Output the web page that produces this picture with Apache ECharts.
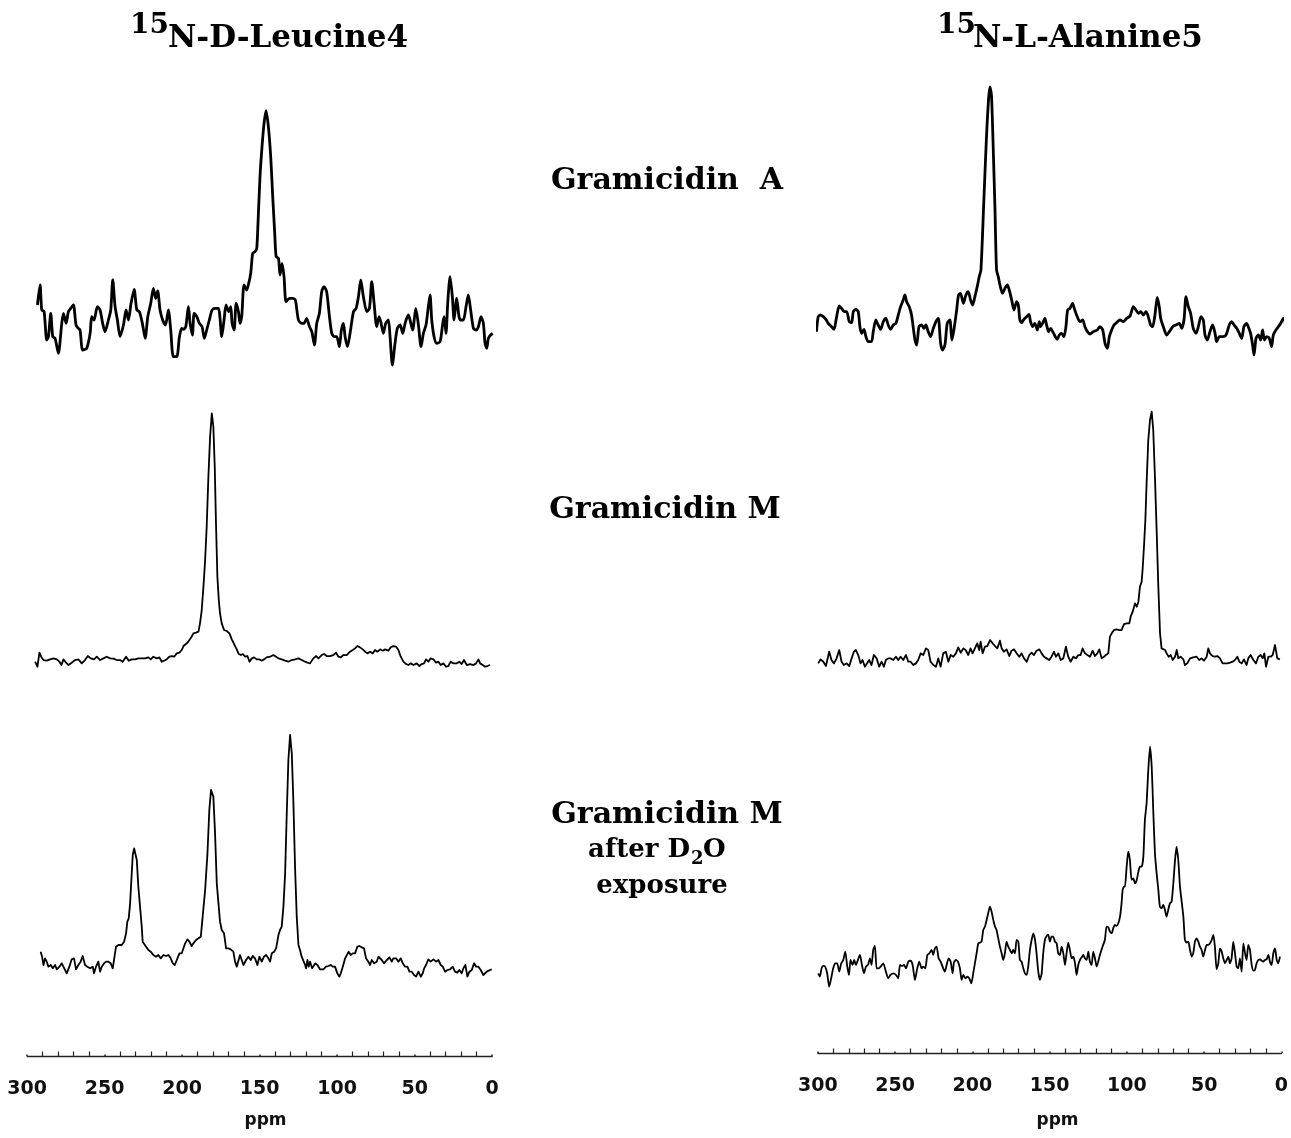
<!DOCTYPE html>
<html>
<head>
<meta charset="utf-8">
<title>15N NMR spectra of gramicidin</title>
<script src="https://cdn.jsdelivr.net/npm/echarts@6/dist/echarts.min.js"></script>
<style>
  html, body { margin: 0; padding: 0; background: #fff; }
  #chart { width: 1291px; height: 1138px; }
</style>
</head>
<body>
<div id="chart"></div>
<script>
// spectra as [ppm, intensity (a.u.)]
const leuGA = [[293.4,225],[291.7,285],[290.6,210],[289.1,205],[287.4,120],[286.3,130],[284.8,200],[283.5,130],[282.0,125],[279.9,80],[277.7,170],[276.6,200],[274.9,170],[273.4,205],[271.9,215],[270.2,225],[268.5,165],[267.0,155],[265.9,150],[264.2,90],[261.6,95],[259.4,140],[258.4,190],[256.9,180],[254.7,220],[253.0,210],[251.3,170],[249.8,145],[247.6,180],[246.1,210],[244.8,300],[243.3,220],[241.8,180],[240.1,130],[237.9,165],[236.2,210],[234.7,180],[233.0,230],[231.0,272],[229.3,210],[227.6,205],[225.7,170],[223.9,125],[222.2,190],[220.3,230],[218.6,275],[217.1,245],[215.8,267],[214.3,210],[212.6,180],[210.8,165],[208.9,210],[207.4,150],[205.7,70],[203.5,70],[201.8,130],[200.3,155],[199.2,152],[197.7,160],[196.0,220],[194.9,170],[193.4,135],[192.3,200],[190.6,190],[188.9,170],[187.2,160],[185.7,125],[184.2,150],[182.5,180],[180.7,210],[178.8,215],[176.6,215],[175.6,185],[174.5,130],[173.0,180],[171.7,225],[170.0,205],[168.7,220],[167.8,170],[166.5,150],[165.2,230],[163.7,205],[162.7,170],[161.6,190],[160.1,285],[158.4,270],[157.1,290],[155.8,320],[154.5,380],[153.0,385],[151.9,395],[151.1,470],[149.8,610],[148.5,700],[147.2,770],[145.9,808],[144.4,760],[142.9,670],[141.6,550],[140.3,440],[139.4,370],[137.9,365],[136.9,315],[135.6,350],[134.3,310],[133.0,235],[130.8,245],[128.7,245],[127.0,240],[125.0,180],[122.9,170],[121.4,170],[119.7,185],[117.9,160],[116.4,145],[114.7,105],[113.2,170],[111.5,200],[110.0,265],[108.5,280],[106.8,265],[105.0,190],[103.5,140],[102.0,130],[100.3,130],[98.6,100],[97.3,150],[96.0,170],[94.9,130],[93.4,100],[91.7,140],[89.5,205],[87.8,215],[86.3,250],[84.8,300],[83.1,250],[80.9,205],[79.2,215],[77.7,295],[76.2,230],[74.5,160],[73.0,190],[71.9,175],[70.2,140],[68.7,170],[67.0,180],[65.9,130],[64.4,45],[62.7,110],[61.2,155],[59.4,165],[57.7,140],[56.2,170],[54.1,195],[53.0,180],[51.3,150],[49.3,215],[47.6,165],[45.9,100],[44.4,140],[42.7,165],[41.2,220],[40.1,255],[39.0,180],[37.5,130],[35.8,110],[33.6,115],[31.9,170],[31.0,190],[29.8,140],[28.7,230],[27.2,310],[25.7,250],[24.6,180],[22.9,245],[21.4,190],[20.3,180],[18.6,180],[16.9,220],[15.4,255],[13.9,210],[12.1,155],[10.4,150],[8.9,160],[7.2,190],[5.7,170],[4.6,110],[3.5,95],[2.5,125],[1.0,135],[-0.3,140]];

const alaGA = [[300.9,115],[299.8,160],[298.3,165],[296.5,160],[294.8,152],[293.3,140],[291.2,130],[289.6,122],[287.9,160],[286.2,192],[284.7,185],[283.0,175],[281.4,175],[279.7,145],[278.2,142],[277.1,175],[275.4,182],[273.9,175],[272.8,130],[271.7,110],[270.2,122],[268.9,100],[267.4,85],[265.3,85],[264.2,115],[262.5,150],[261.0,135],[259.4,122],[257.7,145],[256.0,155],[254.5,135],[253.0,122],[251.2,135],[249.5,140],[248.0,165],[246.5,190],[244.8,210],[243.7,225],[242.6,205],[240.9,190],[239.4,165],[237.2,90],[236.1,75],[234.6,130],[232.9,135],[231.4,125],[230.1,135],[228.6,115],[227.1,100],[225.3,125],[223.6,145],[222.1,155],[220.6,80],[219.3,60],[217.8,75],[216.3,140],[214.6,150],[213.3,90],[212.0,120],[210.2,180],[209.0,225],[207.7,230],[205.9,200],[204.2,225],[202.7,235],[201.2,210],[199.9,195],[198.4,220],[196.9,250],[195.6,280],[194.5,300],[192.6,510],[191.0,690],[189.6,810],[188.7,849],[187.7,825],[186.7,690],[185.4,480],[184.4,300],[183.3,280],[182.2,255],[180.5,230],[179.0,245],[177.4,255],[176.2,240],[174.6,210],[173.1,180],[171.4,205],[170.3,195],[169.3,150],[168.2,142],[166.7,152],[164.9,160],[163.4,167],[162.4,145],[161.0,130],[159.6,140],[158.0,120],[156.7,145],[155.9,130],[154.6,140],[153.1,155],[152.0,135],[150.7,115],[149.4,125],[147.7,112],[146.4,100],[145.1,92],[143.8,105],[142.3,110],[140.8,100],[139.5,130],[138.4,180],[136.9,185],[135.2,200],[134.1,185],[132.6,165],[130.4,145],[128.7,150],[127.2,130],[125.6,115],[123.9,108],[121.8,115],[119.2,120],[117.5,130],[115.7,120],[114.2,80],[112.7,65],[111.4,100],[109.9,120],[108.4,135],[106.7,142],[104.5,150],[102.4,145],[100.2,155],[98.0,162],[95.9,190],[94.2,180],[92.6,170],[91.1,175],[89.4,165],[87.7,175],[86.2,160],[84.7,135],[83.4,130],[81.9,165],[80.4,218],[79.1,190],[78.2,155],[76.5,130],[74.3,105],[72.6,115],[70.4,130],[68.3,135],[66.1,140],[64.6,125],[63.1,150],[61.8,220],[60.3,190],[58.8,170],[57.1,125],[55.3,110],[53.8,130],[52.1,160],[50.6,150],[49.5,105],[48.0,90],[46.3,115],[44.6,135],[43.0,110],[42.0,85],[40.2,100],[38.1,100],[35.9,105],[33.8,135],[32.2,145],[30.7,135],[29.0,125],[27.3,110],[25.8,95],[24.3,130],[22.6,140],[21.5,130],[20.0,110],[18.7,75],[17.8,45],[16.5,95],[15.0,105],[13.5,90],[12.2,120],[11.1,90],[9.6,100],[7.9,95],[6.4,70],[5.3,105],[3.6,120],[2.0,130],[0.5,140],[-1.2,155],[-2.3,145],[-3.3,85]];

const leuGM = [[294.9,45],[293.4,30],[292.1,72],[291.0,60],[289.5,50],[287.4,48],[285.2,52],[283.1,55],[280.9,52],[279.2,45],[277.9,35],[276.6,52],[274.9,42],[273.4,35],[271.3,42],[269.1,50],[267.0,52],[264.8,40],[262.7,50],[260.9,62],[259.0,55],[256.9,52],[255.1,60],[253.0,50],[250.8,55],[248.7,60],[246.5,55],[244.4,54],[242.2,50],[240.1,50],[238.4,45],[236.2,60],[234.5,48],[232.6,52],[230.4,52],[228.3,55],[226.1,55],[224.0,55],[221.8,58],[220.3,52],[218.6,60],[216.4,55],[214.7,58],[213.2,45],[211.7,48],[210.0,52],[208.3,60],[206.8,62],[205.2,60],[203.5,70],[201.8,72],[200.3,80],[199.2,92],[198.1,92],[196.6,102],[195.4,100],[193.9,120],[192.8,130],[191.1,132],[189.5,135],[188.5,160],[187.4,200],[186.3,270],[185.2,350],[184.2,450],[183.1,600],[182.0,720],[180.9,790],[179.9,750],[179.0,630],[178.2,460],[177.3,300],[176.4,230],[175.6,190],[174.5,160],[173.0,140],[171.3,137],[169.5,130],[168.0,112],[166.5,98],[164.8,82],[163.5,68],[162.2,65],[160.9,68],[159.4,60],[157.9,62],[156.6,45],[155.1,55],[153.6,58],[151.9,52],[150.2,52],[148.7,48],[147.2,52],[145.5,58],[143.3,60],[141.2,65],[139.4,60],[137.9,55],[135.8,52],[133.6,48],[131.5,45],[129.3,50],[127.2,52],[125.0,55],[122.9,50],[120.7,45],[119.2,42],[117.5,40],[115.4,55],[113.6,62],[112.1,55],[110.0,65],[108.5,68],[106.8,62],[104.6,62],[102.5,65],[100.7,72],[99.2,60],[97.7,58],[96.0,65],[93.9,65],[91.7,75],[90.0,80],[88.5,85],[87.0,92],[85.3,88],[83.5,82],[82.0,75],[80.5,70],[78.8,75],[77.1,70],[75.6,80],[74.1,75],[72.3,82],[70.6,78],[69.1,82],[67.0,78],[65.5,88],[63.8,92],[62.0,90],[60.5,80],[59.0,60],[57.3,45],[55.6,38],[54.1,35],[52.6,40],[50.8,35],[48.7,40],[47.0,32],[45.5,38],[44.0,40],[42.7,52],[41.2,45],[39.7,55],[37.9,52],[36.2,42],[34.7,45],[33.2,35],[31.5,40],[29.8,30],[28.3,32],[26.8,45],[25.0,40],[22.9,40],[21.2,45],[19.7,38],[18.2,50],[16.4,35],[14.3,38],[12.1,35],[10.4,40],[8.9,52],[7.8,40],[6.1,35],[4.6,30],[3.1,32],[1.4,35]];

const alaGM = [[299.8,40],[298.3,52],[296.5,45],[294.8,32],[292.7,75],[291.2,50],[289.6,40],[287.9,55],[286.2,80],[284.7,45],[283.2,35],[281.4,40],[279.7,32],[278.2,55],[276.7,75],[275.4,80],[273.9,65],[272.4,40],[271.1,50],[269.6,30],[268.5,25],[266.8,50],[265.3,35],[263.8,65],[262.0,55],[260.3,30],[258.8,45],[257.3,30],[256.0,50],[254.5,55],[253.0,55],[251.2,50],[249.5,60],[248.0,50],[246.5,60],[244.8,50],[243.0,65],[241.5,45],[240.0,45],[238.3,35],[236.6,40],[235.1,50],[233.5,70],[231.8,65],[230.1,85],[228.6,80],[227.1,45],[225.3,35],[223.6,30],[222.1,55],[220.6,30],[218.9,70],[217.2,75],[215.6,45],[214.1,65],[212.4,60],[210.7,70],[209.2,88],[207.6,72],[205.9,85],[204.4,80],[202.7,65],[201.2,85],[199.9,70],[198.4,85],[196.9,100],[195.6,80],[194.7,105],[193.4,70],[191.9,90],[190.4,92],[188.6,110],[186.9,100],[185.4,92],[183.9,85],[182.2,108],[181.1,85],[179.6,75],[177.9,82],[176.1,62],[174.7,78],[173.1,82],[171.4,70],[169.7,60],[168.2,70],[166.6,55],[164.9,45],[163.2,65],[161.7,72],[160.2,65],[158.5,78],[156.7,82],[155.2,70],[153.7,60],[152.0,55],[150.3,50],[148.8,60],[147.2,75],[146.0,60],[144.4,70],[142.9,50],[141.2,55],[139.5,90],[138.0,60],[136.5,45],[134.7,60],[133.0,55],[131.5,65],[130.0,65],[128.7,85],[127.2,70],[125.6,65],[123.9,60],[122.2,78],[120.7,62],[119.2,70],[117.9,82],[116.4,55],[114.9,60],[113.6,65],[112.1,70],[111.0,120],[109.9,130],[108.4,140],[106.7,142],[105.0,140],[103.5,140],[101.9,158],[100.2,160],[98.5,160],[97.6,180],[96.3,195],[94.8,220],[93.7,210],[92.6,225],[91.6,270],[90.5,285],[89.9,320],[89.0,390],[88.1,470],[87.3,580],[86.2,710],[85.1,770],[84.0,795],[83.0,740],[81.9,600],[80.8,440],[79.7,270],[78.6,130],[77.6,85],[76.5,85],[75.4,80],[74.3,70],[73.0,60],[71.7,65],[70.4,50],[68.9,60],[67.8,80],[66.8,55],[65.3,60],[63.5,52],[62.5,35],[61.0,40],[59.2,55],[57.1,58],[54.9,60],[53.2,50],[51.7,55],[50.2,48],[48.4,60],[47.4,85],[46.3,70],[44.6,62],[43.1,60],[41.5,62],[39.8,55],[38.1,40],[36.6,40],[35.1,40],[33.3,42],[31.6,45],[30.1,50],[28.6,60],[27.3,45],[25.8,40],[24.3,52],[22.6,35],[21.5,55],[20.0,65],[18.2,50],[16.5,40],[15.0,60],[13.5,65],[12.2,55],[11.1,70],[10.0,30],[8.5,60],[7.0,60],[5.7,65],[4.2,95],[2.7,55],[1.0,52]];

const leuD2O = [[291.3,85],[290.4,70],[289.5,45],[288.5,65],[287.4,55],[286.3,40],[284.8,45],[283.5,35],[282.0,45],[280.9,32],[279.2,40],[277.7,50],[276.6,45],[274.5,20],[272.8,40],[271.3,62],[269.8,65],[268.5,32],[267.0,45],[265.5,55],[264.2,72],[262.7,45],[261.2,40],[259.4,35],[257.7,40],[256.9,20],[255.6,40],[254.1,55],[253.0,25],[251.9,40],[250.4,50],[249.1,55],[247.6,55],[246.1,50],[244.8,35],[243.7,40],[242.7,100],[241.2,105],[239.0,105],[237.5,115],[236.2,140],[235.4,175],[234.5,185],[233.6,230],[232.8,300],[231.9,375],[231.0,395],[230.2,392],[229.3,360],[228.3,280],[227.2,220],[226.1,160],[225.5,115],[224.6,110],[223.3,100],[221.8,90],[220.3,85],[218.6,75],[216.9,70],[215.4,75],[213.9,65],[212.1,75],[210.4,72],[208.9,75],[207.4,65],[206.1,50],[204.8,45],[203.5,60],[201.8,80],[200.3,80],[199.2,95],[198.1,110],[196.6,122],[195.4,115],[193.9,102],[192.8,110],[191.1,120],[189.5,125],[188.0,130],[186.8,190],[185.2,270],[183.7,380],[182.5,510],[181.4,570],[180.5,575],[179.9,550],[178.8,440],[177.7,290],[176.6,230],[175.6,175],[174.5,150],[173.0,140],[171.7,95],[170.2,95],[168.7,92],[167.0,85],[165.9,55],[164.8,40],[163.7,45],[162.7,75],[161.6,70],[160.5,45],[158.8,60],[157.3,70],[155.8,60],[154.5,72],[153.0,65],[151.5,45],[150.2,70],[148.7,55],[147.2,70],[145.9,75],[144.4,65],[143.3,55],[142.2,80],[140.7,85],[139.4,95],[137.9,135],[136.9,150],[135.8,160],[134.7,220],[133.6,320],[132.6,490],[131.5,660],[130.4,735],[129.3,680],[128.3,540],[127.2,340],[126.1,190],[125.0,105],[124.0,90],[122.9,70],[121.8,65],[120.7,45],[120.1,35],[119.2,60],[118.4,40],[117.5,55],[116.2,35],[115.4,40],[114.1,50],[112.8,45],[111.1,32],[108.9,32],[107.2,40],[105.7,42],[104.2,45],[102.9,40],[101.4,40],[99.9,20],[98.6,10],[97.7,20],[96.4,40],[94.9,65],[93.9,70],[92.6,85],[91.3,75],[90.0,80],[88.5,80],[87.0,100],[85.7,102],[84.2,98],[82.7,95],[81.4,65],[79.9,55],[78.8,45],[77.7,60],[76.2,50],[74.5,55],[73.4,70],[72.3,75],[71.3,60],[69.8,50],[68.0,60],[66.3,68],[64.8,55],[63.8,65],[62.0,65],[60.5,55],[59.0,65],[57.7,50],[56.2,40],[54.7,40],[53.4,25],[51.9,25],[50.4,15],[49.1,10],[47.6,25],[46.1,10],[44.8,20],[43.9,35],[42.7,45],[41.2,62],[39.7,55],[37.9,62],[36.2,55],[34.7,60],[33.2,45],[31.9,40],[30.4,25],[28.9,30],[27.2,32],[25.5,40],[24.0,25],[22.5,22],[21.2,30],[19.7,20],[18.6,35],[17.3,45],[16.0,10],[14.7,25],[13.2,30],[11.7,50],[10.4,40],[8.9,40],[7.4,30],[5.7,15],[4.6,10],[3.5,25],[2.5,20],[1.4,30],[0.3,32]];

const alaD2O = [[299.8,60],[298.7,50],[297.6,75],[296.5,82],[295.3,80],[294.0,60],[292.7,20],[291.4,45],[290.1,75],[288.8,90],[287.5,90],[286.2,65],[284.9,90],[283.6,100],[282.3,125],[281.0,80],[279.9,55],[278.9,100],[277.6,85],[276.5,100],[275.4,85],[274.1,100],[272.8,115],[271.5,85],[270.2,60],[268.9,80],[267.6,85],[266.3,105],[265.3,85],[264.2,130],[263.1,142],[262.0,75],[260.7,75],[259.4,80],[257.7,90],[256.0,65],[254.5,45],[253.0,55],[251.2,60],[249.5,55],[248.0,45],[246.9,85],[245.6,82],[244.3,85],[243.0,75],[241.5,95],[240.0,98],[238.7,85],[237.2,40],[235.7,75],[234.4,95],[232.9,75],[231.8,80],[230.5,75],[229.2,115],[227.9,120],[226.4,130],[225.4,115],[224.3,135],[223.2,140],[221.9,105],[220.6,95],[218.9,75],[217.8,65],[216.7,85],[215.4,105],[214.1,95],[212.8,60],[212.0,92],[210.7,100],[209.4,95],[208.1,75],[207.0,40],[205.9,55],[204.6,45],[203.3,50],[202.1,45],[200.7,30],[199.5,60],[198.4,90],[197.3,120],[196.2,150],[195.2,152],[194.1,155],[193.0,190],[191.9,200],[190.8,220],[189.8,240],[188.7,260],[187.6,245],[186.5,220],[185.4,200],[184.4,190],[183.3,165],[182.2,140],[181.1,120],[180.1,100],[179.0,120],[177.9,155],[176.8,140],[175.7,130],[174.6,120],[173.6,130],[172.5,120],[171.4,160],[170.3,155],[169.3,100],[168.2,95],[167.1,75],[166.0,60],[164.9,55],[163.9,80],[162.8,130],[161.7,160],[160.6,180],[159.5,160],[158.5,120],[157.4,65],[156.3,40],[155.2,60],[154.2,120],[153.1,160],[152.0,172],[150.9,175],[149.9,155],[148.8,170],[147.7,170],[146.6,155],[145.5,150],[144.5,120],[143.4,115],[142.3,140],[141.2,120],[140.1,85],[139.1,120],[138.0,152],[136.9,130],[135.8,105],[134.7,110],[133.6,90],[132.6,55],[131.5,85],[130.4,100],[129.3,108],[128.3,115],[127.2,105],[126.1,100],[125.0,125],[124.0,95],[122.9,85],[121.8,125],[120.7,105],[119.6,80],[118.6,95],[117.5,115],[115.8,140],[114.3,160],[113.2,200],[112.1,198],[111.0,185],[109.9,180],[108.9,195],[107.8,205],[106.7,202],[105.6,210],[104.5,230],[103.5,270],[102.8,310],[101.9,320],[101.3,320],[100.2,380],[99.2,425],[98.1,400],[97.0,340],[95.9,345],[94.8,330],[93.7,340],[92.6,365],[91.6,380],[90.5,380],[89.4,410],[88.4,520],[87.3,570],[86.2,670],[85.1,740],[84.0,680],[83.0,550],[81.9,420],[80.8,360],[79.7,310],[78.7,260],[77.6,255],[76.5,265],[75.4,250],[74.4,230],[73.3,250],[72.2,270],[71.1,275],[70.0,330],[68.9,400],[67.9,440],[66.8,400],[65.7,320],[64.6,275],[63.5,230],[62.5,160],[61.4,152],[60.3,155],[59.2,130],[58.1,110],[57.1,120],[56.0,155],[54.9,165],[53.8,155],[52.8,140],[51.7,130],[50.6,110],[49.5,130],[48.4,145],[47.4,145],[46.3,150],[45.2,160],[44.1,175],[43.1,140],[42.0,72],[40.9,90],[39.8,135],[38.7,125],[37.7,105],[36.6,90],[35.5,100],[34.4,110],[33.4,90],[32.3,105],[31.2,155],[30.1,120],[29.0,80],[28.0,75],[26.9,105],[25.8,65],[24.7,150],[23.6,120],[22.6,100],[21.5,145],[20.4,130],[19.3,85],[18.2,68],[17.2,70],[16.1,90],[15.0,100],[13.9,102],[12.9,98],[11.8,95],[10.7,100],[9.6,102],[8.5,115],[7.5,95],[6.4,85],[5.3,120],[4.2,135],[3.1,100],[2.1,90],[1.0,110]];

const ppmLabels = [300, 250, 200, 150, 100, 50, 0];

const chart = echarts.init(document.getElementById('chart'));

// left / right column placement: 300 ppm at left edge, 0 ppm at right edge
const LEFT = { left: 27.2, width: 465 };
const RIGHT = { left: 817.9, width: 463.6 };

const panels = [
  { data: leuGA, col: LEFT, top: 80, lw: 2.8, smooth: 0.25 },
  { data: alaGA, col: RIGHT, top: 70, lw: 2.8, smooth: 0.25 },
  { data: leuGM, col: LEFT, top: 376.7, lw: 1.8, smooth: 0 },
  { data: alaGM, col: RIGHT, top: 376.7, lw: 1.8, smooth: 0 },
  { data: leuD2O, col: LEFT, top: 680, lw: 1.8, smooth: 0 },
  { data: alaD2O, col: RIGHT, top: 693.3, lw: 1.8, smooth: 0.2 },
];

const grid = [], xAxis = [], yAxis = [], series = [];

panels.forEach((p, i) => {
  grid.push({ left: p.col.left, width: p.col.width, top: p.top, height: 300 });
  xAxis.push({ type: 'value', gridIndex: i, min: 0, max: 300, inverse: true, show: false });
  yAxis.push({ type: 'value', gridIndex: i, min: 0, max: 900, show: false });
  series.push({
    type: 'line',
    xAxisIndex: i,
    yAxisIndex: i,
    data: p.data,
    symbol: 'none',
    smooth: p.smooth,
    clip: false,
    silent: true,
    lineStyle: { color: '#000', width: p.lw, join: 'round' },
  });
});

// ppm scales under each column
[{ col: LEFT, h: 56 }, { col: RIGHT, h: 53 }].forEach((a) => {
  const i = grid.length;
  grid.push({ left: a.col.left, width: a.col.width, top: 1000, height: a.h });
  xAxis.push({
    type: 'value',
    gridIndex: i,
    min: 0,
    max: 300,
    interval: 50,
    inverse: true,
    axisLine: { show: true, onZero: false, lineStyle: { color: '#222', width: 1.3 } },
    axisTick: { show: true, inside: true, length: 1.5, lineStyle: { color: '#222', width: 1.5 } },
    minorTick: { show: true, splitNumber: 5, length: 4.5, lineStyle: { color: '#222', width: 1.2 } },
    splitLine: { show: false },
    axisLabel: {
      show: true,
      margin: 24,
      fontSize: 19,
      fontWeight: 'bold',
      color: '#111',
      fontFamily: 'DejaVu Sans',
      showMinLabel: true,
      showMaxLabel: true,
      formatter: (v) => (ppmLabels.includes(v) ? String(v) : ''),
    },
  });
  yAxis.push({ type: 'value', gridIndex: i, min: 0, max: 1, show: false });
});

const serif = '"DejaVu Serif", "Liberation Serif", serif';
const txt = (text, x, y, size, align) => ({
  type: 'text',
  x: x,
  y: y,
  silent: true,
  style: {
    text: text,
    font: 'bold ' + size + 'px ' + serif,
    fill: '#000',
    align: align,
    verticalAlign: 'middle',
  },
});
const axisName = (x) => ({
  type: 'text', x: x, y: 1121, silent: true,
  style: { text: 'ppm', font: 'bold 17px "DejaVu Sans", sans-serif', fill: '#111', align: 'center', verticalAlign: 'middle' },
});

const graphic = [
  txt('15', 130, 26, 28, 'left'),
  txt('N-D-Leucine4', 168, 39, 31, 'left'),
  txt('15', 937, 26, 28, 'left'),
  txt('N-L-Alanine5', 973, 39, 31, 'left'),
  txt('Gramicidin  A', 667, 181, 30, 'center'),
  txt('Gramicidin M', 665, 510, 30, 'center'),
  txt('Gramicidin M', 667, 815, 30, 'center'),
  txt('after D', 690, 850, 26, 'right'),
  txt('2', 691, 859, 18, 'left'),
  txt('O', 703, 850, 26, 'left'),
  txt('exposure', 662, 886, 26, 'center'),
  axisName(265.5),
  axisName(1057.5),
];

chart.setOption({
  backgroundColor: '#fff',
  animation: false,
  grid: grid,
  xAxis: xAxis,
  yAxis: yAxis,
  series: series,
  graphic: graphic,
});

window.addEventListener('resize', () => chart.resize());
</script>
</body>
</html>
